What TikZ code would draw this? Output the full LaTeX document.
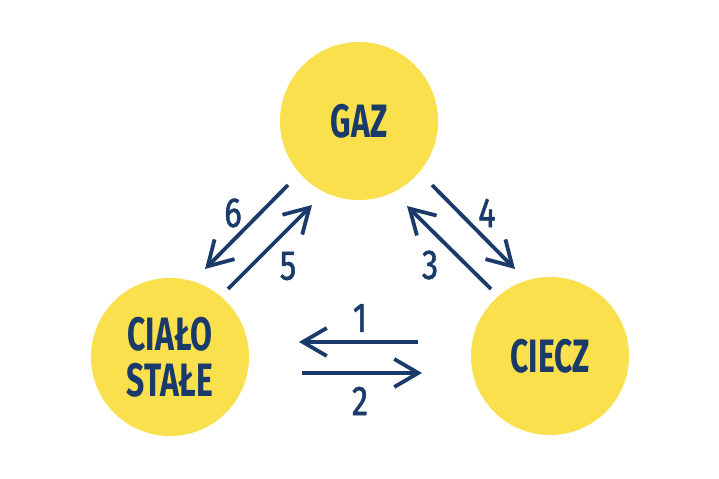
\documentclass[tikz,border=0pt]{standalone}
\usepackage{fontspec}
\setmainfont{Fira Sans}
\newfontfamily\labfont{Fira Sans}[FakeStretch=0.68]
\newfontfamily\numfont{Fira Sans}[FakeStretch=0.78,FakeBold=1.2]
\usetikzlibrary{arrows.meta}
\definecolor{ink}{HTML}{1A3A6A}
\definecolor{sun}{HTML}{F9E04C}
\begin{document}
\begin{tikzpicture}[x=1bp,y=-1bp,
  state/.style={circle,fill=sun,minimum size=158bp,inner sep=0pt,text=ink,
    font=\labfont\bfseries\fontsize{47}{46}\selectfont,align=center},
  flow/.style={draw=ink,line width=3.8bp,-{Straight Barb[length=24bp,width=28bp,line width=3.8bp]}},
  num/.style={text=ink,font=\numfont\fontsize{42}{46}\selectfont,inner sep=0pt}]
\useasboundingbox[fill=white] (0,0) rectangle (719,479);
\node[state] (gaz) at (359,121) {GAZ};
\node[state] (solid) at (170,357) {CIAŁO\\STAŁE};
\node[state] (liquid) at (550,356) {CIECZ};
% arrow endpoints
\coordinate (a6s) at (288,185); \coordinate (a6e) at (205,269);
\coordinate (a5s) at (228,289); \coordinate (a5e) at (312,205);
\coordinate (a4s) at (432,185); \coordinate (a4e) at (515,269);
\coordinate (a3s) at (491,289); \coordinate (a3e) at (407,206);
\coordinate (a1s) at (418,342); \coordinate (a1e) at (299,342);
\coordinate (a2s) at (302,373); \coordinate (a2e) at (422,373);
\draw[flow] (a6s) -- (a6e);
\draw[flow] (a5s) -- (a5e);
\draw[flow] (a4s) -- (a4e);
\draw[flow] (a3s) -- (a3e);
\draw[flow] (a1s) -- (a1e);
\draw[flow] (a2s) -- (a2e);
\node[num] (n6) at (233,213) {6};
\node[num] (n5) at (288,266) {5};
\node[num] (n4) at (487,213) {4};
\node[num] (n3) at (430,265) {3};
\node[num] (n1) at (360,318) {1};
\node[num] (n2) at (360,401) {2};
\end{tikzpicture}
\end{document}
